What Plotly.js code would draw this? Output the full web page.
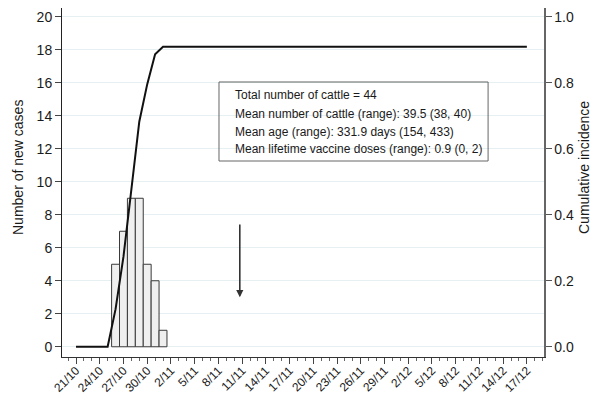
<!DOCTYPE html>
<html>
<head>
<meta charset="utf-8">
<script src="https://cdn.plot.ly/plotly-3.0.1.min.js"></script>
<style>html,body{margin:0;padding:0;background:#fff;}#chart{width:593px;height:398px;}</style>
</head>
<body>
<div id="chart"></div>
<script>
// ---- Data ----
const caseDates = ['2020-10-26','2020-10-27','2020-10-28','2020-10-29','2020-10-30','2020-10-31','2020-11-01'];
const newCases  = [5, 7, 9, 9, 5, 4, 1];

const cumDates  = ['2020-10-21','2020-10-25','2020-10-26','2020-10-27','2020-10-28','2020-10-29','2020-10-30','2020-10-31','2020-11-01','2020-12-17'];
const cumIncidence = [0, 0, 0.114, 0.273, 0.477, 0.682, 0.795, 0.886, 0.909, 0.909];

const leftTicks  = [0, 2, 4, 6, 8, 10, 12, 14, 16, 18, 20];
const rightTicks = [0.0, 0.2, 0.4, 0.6, 0.8, 1.0];

const arrowDate = '2020-11-10 17:00';
const arrowFrom = 7.5, arrowTo = 3.0;

const boxLines = [
  'Total number of cattle = 44',
  'Mean number of cattle (range): 39.5 (38, 40)',
  'Mean age (range): 331.9 days (154, 433)',
  'Mean lifetime vaccine doses (range): 0.9 (0, 2)'
];

// ---- Layout constants ----
const FONT = 'Liberation Sans, Arial, sans-serif';
const DAY = 86400000;
const boxLineY = [0.7507, 0.6963, 0.6447, 0.596];

const traces = [
  {
    type: 'bar', x: caseDates, y: newCases, width: DAY,
    marker: {color: '#efefef', line: {color: '#3a3a3a', width: 1}},
    hoverinfo: 'skip', showlegend: false
  },
  {
    type: 'scatter', mode: 'lines', x: cumDates, y: cumIncidence, yaxis: 'y2',
    line: {color: '#111', width: 2},
    hoverinfo: 'skip', showlegend: false
  }
];

const annotations = boxLines.map((t, i) => ({
  xref: 'paper', yref: 'paper', x: 0.354, y: boxLineY[i],
  xanchor: 'left', yanchor: 'middle', showarrow: false, text: t,
  font: {family: FONT, size: 12, color: '#1a1a1a'}
}));
annotations.push({
  xref: 'x', yref: 'y', axref: 'x', ayref: 'y',
  x: arrowDate, y: arrowTo, ax: arrowDate, ay: arrowFrom,
  showarrow: true, arrowhead: 2, arrowsize: 0.9, arrowwidth: 1.6, arrowcolor: '#333', text: ''
});
annotations.push({
  xref: 'paper', yref: 'paper', x: (18 - 62) / 482, y: (357 - 168) / 349,
  xanchor: 'center', yanchor: 'middle', textangle: -90, showarrow: false,
  text: 'Number of new cases', font: {family: FONT, size: 14, color: '#1a1a1a'}
});
annotations.push({
  xref: 'paper', yref: 'paper', x: (584 - 62) / 482, y: (357 - 168) / 349,
  xanchor: 'center', yanchor: 'middle', textangle: -90, showarrow: false,
  text: 'Cumulative incidence', font: {family: FONT, size: 14, color: '#1a1a1a'}
});

const layout = {
  width: 593, height: 398,
  margin: {l: 62, r: 49, t: 8, b: 41, pad: 0},
  paper_bgcolor: '#fff', plot_bgcolor: '#fff',
  font: {family: FONT, color: '#1a1a1a'},
  showlegend: false,
  bargap: 0,
  xaxis: {
    type: 'date',
    range: ['2020-10-19 05:30', '2020-12-19 04:00'],
    tick0: '2020-10-21', dtick: 3 * DAY, tickformat: '%-d/%-m',
    tickangle: -45, tickfont: {family: FONT, size: 12, color: '#1a1a1a'},
    ticklabelstandoff: -5,
    ticks: 'outside', ticklen: 6, tickcolor: '#444', tickwidth: 1,
    minor: {dtick: DAY, tick0: '2020-10-21', ticks: 'outside', ticklen: 3, tickcolor: '#666', showgrid: false},
    showline: true, linecolor: '#333', linewidth: 1,
    showgrid: false, zeroline: false, fixedrange: true, automargin: false
  },
  yaxis: {
    range: [-0.62, 20.53],
    tickvals: leftTicks, ticktext: leftTicks.map(String),
    tickfont: {family: FONT, size: 14, color: '#1a1a1a'},
    ticks: 'outside', ticklen: 6, tickcolor: '#444',
    showline: true, linecolor: '#222', linewidth: 1,
    showgrid: true, gridcolor: '#e6eff1', gridwidth: 1,
    zeroline: false, fixedrange: true
  },
  yaxis2: {
    overlaying: 'y', side: 'right',
    range: [-0.031, 1.0265],
    tickvals: rightTicks, ticktext: rightTicks.map(v => v.toFixed(1)),
    tickfont: {family: FONT, size: 14, color: '#1a1a1a'},
    ticks: 'outside', ticklen: 6, tickcolor: '#555',
    showline: true, linecolor: '#666', linewidth: 1.5,
    showgrid: false, zeroline: false, fixedrange: true
  },
  shapes: [{
    type: 'rect', xref: 'paper', yref: 'paper',
    x0: 0.3257, x1: 0.884, y0: 0.5616, y1: 0.788,
    line: {color: '#666', width: 1}, fillcolor: 'rgba(255,255,255,0)'
  }],
  annotations: annotations
};

Plotly.newPlot('chart', traces, layout, {staticPlot: true, displayModeBar: false});
</script>
</body>
</html>
